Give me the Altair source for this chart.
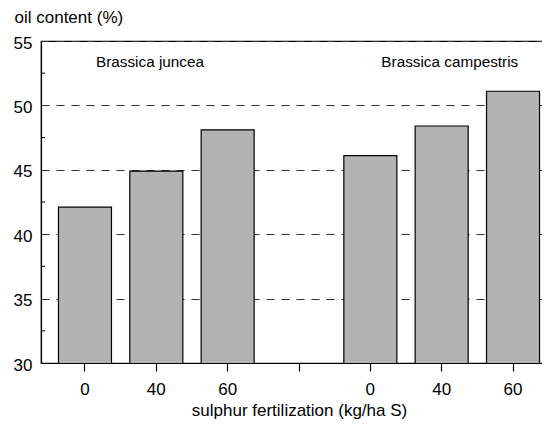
import altair as alt
import pandas as pd

species = ["Brassica juncea", "Brassica campestris"]
rates = ["0", "40", "60"]
juncea = [42.1, 44.9, 48.1]
campestris = [46.1, 48.4, 51.1]

categories = ["juncea 0", "juncea 40", "juncea 60", "gap",
              "campestris 0", "campestris 40", "campestris 60"]
y_major = [30, 35, 40, 45, 50, 55]
y_minor = [32.5, 37.5, 42.5, 47.5, 52.5]

rows = []
for r, v in zip(rates, juncea):
    rows.append({"cat": "juncea " + r, "value": v})
for r, v in zip(rates, campestris):
    rows.append({"cat": "campestris " + r, "value": v})
df = pd.DataFrame(rows)

ann = pd.DataFrame({"cat": ["juncea 0", "campestris 0"], "label": species, "y": [53, 53]})
minor = pd.DataFrame({"v": y_minor})

FONT = "Arial"

xscale = alt.Scale(domain=categories, paddingInner=0.257, paddingOuter=0.245)
yscale = alt.Scale(domain=[30, 55], nice=False, zero=False)

bars = alt.Chart(df).mark_bar(color="#b3b3b3", stroke="#000000", strokeWidth=1.2, size=53, clip=True).encode(
    x=alt.X("cat:N", scale=xscale, sort=categories,
            axis=alt.Axis(title="sulphur fertilization (kg/ha S)", labelAngle=0,
                          labelExpr="split(datum.value, ' ')[1] || ''",
                          tickSize=8, tickColor="#000", domainColor="#000",
                          labelPadding=10, labelFontSize=17, labelFont=FONT, labelColor="#000",
                          titleFontSize=17, titleFont=FONT, titleFontWeight="normal", titleColor="#000",
                          titleX=258, titleY=52, titleBaseline="alphabetic", titleAnchor="middle",
                          titleAlign="center")),
    y=alt.Y("value:Q", scale=yscale,
            axis=alt.Axis(values=y_major, title="oil content (%)", ticks=False, tickSize=0,
                          grid=True, gridDash=[8, 7], gridColor="#333", gridWidth=1,
                          domainColor="#000", labelPadding=9, labelOffset=2,
                          labelFontSize=17, labelFont=FONT, labelColor="#000",
                          titleAngle=0, titleAlign="left", titleBaseline="alphabetic",
                          titleX=-27, titleY=-19, titleFontSize=17, titleFont=FONT,
                          titleFontWeight="normal", titleColor="#000")),
)

minor_ticks = alt.Chart(minor).mark_rule(color="#000", strokeWidth=1).encode(
    x=alt.value(0), x2=alt.value(4), y=alt.Y("v:Q", scale=yscale)
)

labels = alt.Chart(ann).mark_text(align="left", baseline="alphabetic", dx=11,
                                  fontSize=15.3, font=FONT, color="#000").encode(
    x=alt.X("cat:N", scale=xscale, sort=categories),
    y=alt.Y("y:Q", scale=yscale),
    text="label:N",
)

chart = alt.layer(bars, minor_ticks, labels).properties(
    width=516, height=322, autosize="none",
    padding={"left": 33, "top": 33, "right": -15, "bottom": 56},
).configure_view(stroke="#000", strokeWidth=1.2).configure_axis(domainWidth=1.2, tickWidth=1.2)

chart.save("out.html", embed_options={"renderer": "svg", "actions": False})
